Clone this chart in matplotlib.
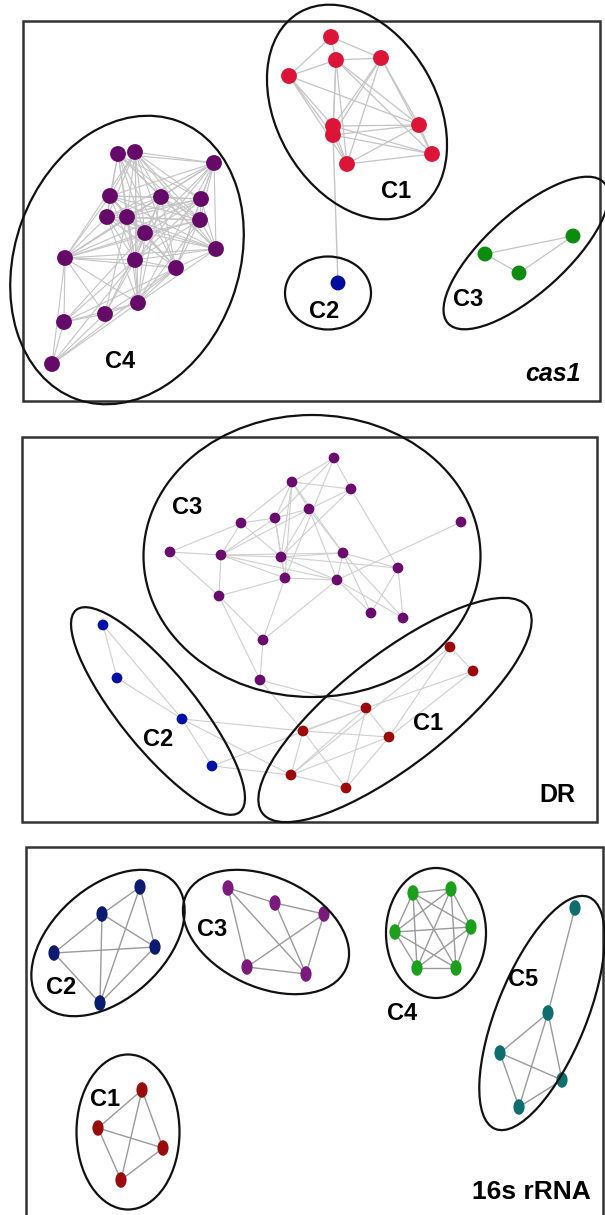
import numpy as np
import matplotlib.pyplot as plt
from matplotlib.patches import Ellipse, Rectangle
from matplotlib.path import Path
from matplotlib.transforms import Affine2D

plt.rcParams['font.family'] = ['Liberation Sans', 'DejaVu Sans']

# ---------------- panel 1 : cas1 ----------------
cas1_c1 = [(331, 37), (336, 60), (381, 58), (289, 76), (333, 126), (333, 135),
           (419, 125), (432, 154), (347, 164)]
cas1_c2 = [(338, 283)]
cas1_c3 = [(485, 254), (573, 236), (519, 273)]
cas1_c4 = [(118, 154), (135, 152), (214, 163), (110, 196), (161, 197), (201, 199),
           (107, 217), (127, 217), (200, 220), (145, 233), (216, 249), (65, 258),
           (135, 260), (176, 268), (138, 303), (105, 314), (64, 322), (52, 364)]

cas1_c1_edges = [(0, 1), (0, 2), (0, 3), (1, 2), (1, 3), (1, 4), (1, 5), (1, 6), (1, 7),
                 (1, 8), (2, 4), (2, 5), (2, 6), (2, 7), (2, 8), (3, 4), (3, 5), (3, 6),
                 (3, 8), (4, 5), (4, 6), (4, 7), (4, 8), (5, 6), (5, 7), (5, 8), (6, 7),
                 (6, 8), (7, 8)]
cas1_c3_edges = [(0, 1), (0, 2), (1, 2)]
# adjacency of the dense C4 cluster (node -> higher numbered neighbours)
cas1_c4_adj = {
    0: [1, 2, 3, 4, 5, 6, 7, 8, 9, 10, 12, 13],
    1: [2, 3, 4, 5, 6, 7, 8, 9, 10, 11, 12, 13, 14],
    2: [3, 4, 5, 6, 8, 9, 10, 11, 12, 13, 14],
    3: [4, 5, 6, 7, 8, 9, 10, 11, 12, 13],
    4: [5, 6, 7, 8, 9, 10, 11, 12, 13, 14],
    5: [6, 7, 8, 9, 10, 11, 12, 13],
    6: [7, 8, 9, 10, 11, 12, 13, 14],
    7: [8, 9, 10, 11, 12, 13, 14, 15],
    8: [9, 10, 11, 12, 13, 14],
    9: [10, 11, 12, 13, 14, 15, 16],
    10: [11, 12, 13, 14],
    11: [12, 13, 14, 15, 16, 17],
    12: [13, 14, 15, 16, 17],
    13: [14, 15, 16, 17],
    14: [15, 16, 17],
    15: [16, 17],
    16: [17],
}
cas1_c4_edges = [(a, b) for a, nb in cas1_c4_adj.items() for b in nb]
cas1_cross = [(cas1_c1[5], cas1_c2[0])]

cas1_colors = {'C1': '#dc1438', 'C2': '#000c9c', 'C3': '#0c8c0c', 'C4': '#660a6a'}
cas1_hulls = [(357, 112, 230, 160, 60), (328, 293, 86, 73, 0),
              (526, 253, 210, 80, -42), (127, 260, 296, 224, -70)]
cas1_labels = [('C1', 396, 192), ('C2', 324, 312), ('C3', 468, 299), ('C4', 120, 361)]

# ---------------- panel 2 : DR ----------------
dr_c1 = [(450, 647), (473, 671), (366, 708), (389, 737), (303, 731), (291, 775), (346, 788)]
dr_c2 = [(103, 625), (117, 678), (182, 719), (212, 766)]
dr_c3 = [(334, 458), (292, 482), (351, 489), (309, 509), (275, 518), (241, 523),
         (461, 522), (170, 552), (221, 555), (281, 557), (343, 553), (398, 568),
         (285, 578), (337, 580), (219, 596), (371, 613), (403, 618), (263, 640),
         (260, 680)]
dr_c1_edges = [(0, 1), (0, 3), (0, 5), (1, 2), (1, 3), (2, 3), (2, 4), (2, 5), (2, 6),
               (3, 4), (3, 5), (3, 6), (4, 5), (4, 6), (5, 6)]
dr_c2_edges = [(0, 1), (0, 2), (1, 2), (2, 3)]
dr_c3_edges = [(0, 1), (0, 2), (0, 4), (0, 12), (1, 2), (1, 3), (1, 4), (1, 5), (1, 9),
               (1, 10), (1, 12), (2, 3), (2, 9), (2, 11), (3, 4), (3, 8), (3, 9), (3, 10),
               (3, 13), (4, 5), (4, 8), (4, 9), (4, 12), (5, 7), (5, 8), (5, 9), (6, 13),
               (7, 8), (7, 14), (8, 9), (8, 10), (8, 12), (8, 13), (8, 14), (9, 10),
               (9, 11), (9, 12), (9, 13), (10, 11), (10, 13), (10, 15), (10, 16),
               (11, 15), (11, 16), (12, 13), (12, 14), (12, 17), (13, 15), (13, 16),
               (13, 17), (14, 17), (14, 18), (17, 18)]
dr_cross = [(dr_c2[2], dr_c1[4]), (dr_c2[2], dr_c1[5]), (dr_c2[3], dr_c1[5]),
            (dr_c2[3], dr_c1[2]), (dr_c3[18], dr_c1[4]), (dr_c3[18], dr_c1[2])]

dr_colors = {'C1': '#9a0a0a', 'C2': '#0010a4', 'C3': '#6a0c6e'}
dr_hulls = [(312, 556, 337, 282, 0), (158, 711, 260, 76, 51), (395, 710, 336, 110, -38)]
dr_labels = [('C3', 187, 508), ('C2', 158, 740), ('C1', 428, 724)]

# ---------------- panel 3 : 16s rRNA ----------------
rna_c1 = [(142, 1090), (98, 1128), (163, 1148), (121, 1180)]
rna_c2 = [(140, 887), (102, 914), (54, 953), (155, 947), (100, 1003)]
rna_c3 = [(228, 888), (275, 903), (324, 914), (247, 967), (306, 974)]
rna_c4 = [(413, 893), (451, 889), (395, 932), (471, 927), (417, 968), (456, 968)]
rna_c5 = [(575, 908), (548, 1013), (500, 1053), (562, 1080), (519, 1107)]
rna_c1_edges = [(0, 1), (0, 2), (0, 3), (1, 2), (1, 3), (2, 3)]
rna_c2_edges = [(0, 1), (0, 3), (0, 4), (1, 2), (1, 3), (1, 4), (2, 3), (2, 4), (3, 4)]
rna_c3_edges = [(0, 1), (0, 3), (0, 4), (1, 2), (1, 4), (2, 3), (2, 4), (3, 4)]
rna_c4_edges = [(0, 1), (0, 2), (0, 3), (0, 4), (0, 5), (1, 2), (1, 3), (1, 4), (1, 5),
                (2, 3), (2, 4), (2, 5), (3, 4), (3, 5), (4, 5)]
rna_c5_edges = [(0, 1), (1, 2), (1, 3), (1, 4), (2, 3), (2, 4), (3, 4)]

rna_colors = {'C1': '#9a0c0c', 'C2': '#0c1a70', 'C3': '#7a1a7c', 'C4': '#1aa01a', 'C5': '#0e6e6e'}
rna_hulls = [(128, 1132, 103, 155, 0), (108, 943, 180, 112, -42), (266, 932, 176, 110, 25),
             (436, 933, 100, 130, 0), (542, 1013, 250, 90, -68)]
rna_labels = [('C1', 105, 1100), ('C2', 61, 987), ('C3', 212, 929), ('C4', 402, 1013),
              ('C5', 523, 979)]

# panel frames (x0, y0, x1, y1)
frames = [(23, 21, 600, 401), (22, 437, 597, 822), (26, 847, 603, 1216)]


def draw_edges(ax, nodes, edges, color, lw):
    for a, b in edges:
        ax.plot([nodes[a][0], nodes[b][0]], [nodes[a][1], nodes[b][1]],
                color=color, lw=lw, zorder=2, solid_capstyle='round')


def draw_nodes(ax, nodes, color, size, marker='o'):
    xs = [p[0] for p in nodes]
    ys = [p[1] for p in nodes]
    ax.scatter(xs, ys, s=size, c=color, marker=marker, edgecolors='none', zorder=3)


def draw_hulls(ax, hulls):
    for cx, cy, w, h, ang in hulls:
        ax.add_patch(Ellipse((cx, cy), w, h, angle=ang, fill=False,
                             ec='#111111', lw=1.6, zorder=4))


fig = plt.figure(figsize=(6.05, 12.15), dpi=100)
ax = fig.add_axes([0, 0, 1, 1])
ax.set_xlim(0, 605)
ax.set_ylim(1215, 0)
ax.axis('off')

for x0, y0, x1, y1 in frames:
    ax.add_patch(Rectangle((x0, y0), x1 - x0, y1 - y0, fill=False,
                           ec='#333333', lw=1.8, zorder=1))

lab_kw = dict(fontsize=17, fontweight='bold', ha='center', va='center', zorder=5)

# panel 1
e1 = '#c4c4c4'
draw_edges(ax, cas1_c4, cas1_c4_edges, e1, 0.8)
draw_edges(ax, cas1_c1, cas1_c1_edges, e1, 0.9)
draw_edges(ax, cas1_c3, cas1_c3_edges, e1, 0.9)
for p, q in cas1_cross:
    ax.plot([p[0], q[0]], [p[1], q[1]], color=e1, lw=1.0, zorder=2)
draw_nodes(ax, cas1_c1, cas1_colors['C1'], 130)
draw_nodes(ax, cas1_c2, cas1_colors['C2'], 115)
draw_nodes(ax, cas1_c3, cas1_colors['C3'], 115)
draw_nodes(ax, cas1_c4, cas1_colors['C4'], 130)
draw_hulls(ax, cas1_hulls)
for t, x, y in cas1_labels:
    ax.text(x, y, t, **lab_kw)
ax.text(581, 374, 'cas1', fontsize=18, fontweight='bold', style='italic',
        ha='right', va='center', zorder=5)

# panel 2
e2 = '#cfcfcf'
draw_edges(ax, dr_c3, dr_c3_edges, e2, 0.8)
draw_edges(ax, dr_c1, dr_c1_edges, e2, 0.8)
draw_edges(ax, dr_c2, dr_c2_edges, e2, 0.8)
for p, q in dr_cross:
    ax.plot([p[0], q[0]], [p[1], q[1]], color=e2, lw=0.8, zorder=2)
draw_nodes(ax, dr_c1, dr_colors['C1'], 60)
draw_nodes(ax, dr_c2, dr_colors['C2'], 60)
draw_nodes(ax, dr_c3, dr_colors['C3'], 60)
draw_hulls(ax, dr_hulls)
for t, x, y in dr_labels:
    ax.text(x, y, t, **lab_kw)
ax.text(575, 795, 'DR', fontsize=18, fontweight='bold', ha='right', va='center', zorder=5)

# panel 3 (nodes are slightly tall ovals)
oval = Path.unit_circle().transformed(Affine2D().scale(0.72, 1.0))
e3 = '#9a9a9a'
for nodes, edges in [(rna_c1, rna_c1_edges), (rna_c2, rna_c2_edges), (rna_c3, rna_c3_edges),
                     (rna_c4, rna_c4_edges), (rna_c5, rna_c5_edges)]:
    draw_edges(ax, nodes, edges, e3, 1.0)
for nodes, key in [(rna_c1, 'C1'), (rna_c2, 'C2'), (rna_c3, 'C3'), (rna_c4, 'C4'), (rna_c5, 'C5')]:
    draw_nodes(ax, nodes, rna_colors[key], 125, marker=oval)
draw_hulls(ax, rna_hulls)
for t, x, y in rna_labels:
    ax.text(x, y, t, **lab_kw)
ax.text(591, 1192, '16s rRNA', fontsize=19, fontweight='bold', ha='right', va='center', zorder=5)

fig.savefig('out.png', dpi=100)
